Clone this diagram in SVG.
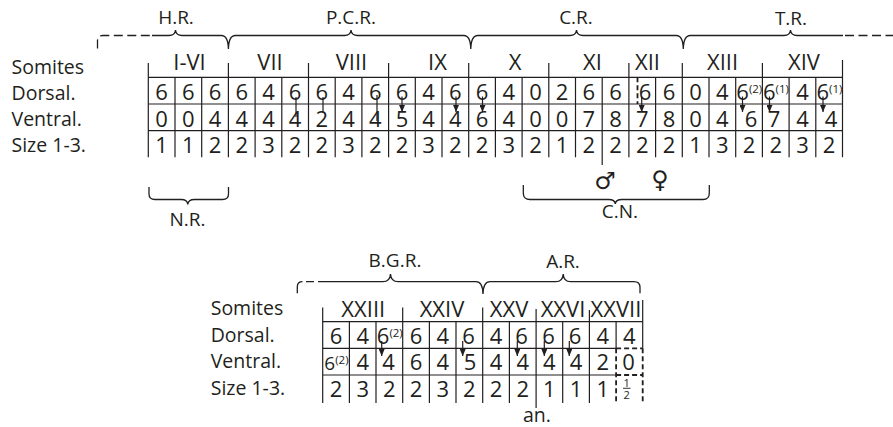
<svg xmlns="http://www.w3.org/2000/svg" width="893" height="427" viewBox="0 0 893 427">
<defs>
<marker id="ah" viewBox="0 0 7 6" refX="7" refY="3" markerWidth="7" markerHeight="6" orient="auto" markerUnits="userSpaceOnUse"><path d="M0,0 L7,3 L0,6 z" fill="#231f20"/></marker>
<style>
text{font-family:"Open Sans","Noto Sans","Liberation Sans",sans-serif;fill:#231f20}
.t{font-size:22px;text-anchor:middle}
.ts{font-size:22px}
.sm{font-size:11.5px}
.lab{font-size:19.5px}
.reg{font-size:19px;text-anchor:middle}
.sym{font-family:"DejaVu Sans",sans-serif;font-size:24px;text-anchor:middle}
.fr{font-size:11px;text-anchor:middle}
.ln{stroke:#231f20;stroke-width:1.2;fill:none}
.dl{stroke:#231f20;stroke-width:1.8;fill:none;stroke-dasharray:5 3}
.br{stroke:#231f20;stroke-width:1.3;fill:none}
.bd{stroke:#231f20;stroke-width:1.3;fill:none;stroke-dasharray:9 4.5}
.ar{stroke:#231f20;stroke-width:1.2;fill:none;marker-end:url(#ah)}
</style>
</defs>
<rect width="893" height="427" fill="#fff"/>

<g id="row-labels-top">
<text class="lab" x="11.5" y="73.5">Somites</text>
<text class="lab" x="11.5" y="100">Dorsal.</text>
<text class="lab" x="11.5" y="126">Ventral.</text>
<text class="lab" x="11.5" y="152">Size 1-3.</text>
</g>

<g id="regions-top">
<path class="bd" d="M97.5,48.5 V41 Q97.5,35.5 103,35.5 H152"/>
<path class="br" d="M152,35.5 H169 Q175,35.5 175.5,30 Q176,35.5 182,35.5 H221.4 Q228.1,35.5 228.4,49 Q228.7,35.5 235.4,35.5 H344.5 Q350.5,35.5 351,30 Q351.5,35.5 357.5,35.5 H463.8 Q470.5,35.5 470.8,49 Q471.1,35.5 477.8,35.5 H570 Q576,35.5 576.5,30 Q577,35.5 583,35.5 H676.3 Q683,35.5 683.3,49 Q683.6,35.5 690.3,35.5 H784 Q790,35.5 790.5,30 Q791,35.5 797,35.5 H843"/>
<path class="bd" d="M845,35.5 H893"/>
<text class="reg" x="176" y="24">H.R.</text>
<text class="reg" x="351" y="24">P.C.R.</text>
<text class="reg" x="576" y="24">C.R.</text>
<text class="reg" x="791" y="25">T.R.</text>
</g>

<g id="table-top">
<path class="ln" d="M148.3,77.3 H842.5 M148.3,104 H842.5 M148.3,130.7 H842.5"/>
<path class="ln" d="M148.3,63 V157.3 M175,77.3 V157.3 M201.7,77.3 V157.3 M228.4,63 V157.3 M255.1,77.3 V157.3 M281.8,77.3 V157.3 M308.5,63 V157.3 M335.2,77.3 V157.3 M361.9,77.3 V157.3 M388.6,63 V157.3 M415.3,77.3 V157.3 M442,77.3 V157.3 M468.7,63 V157.3 M495.4,77.3 V157.3 M522.1,77.3 V157.3 M548.8,63 V157.3 M575.5,77.3 V157.3 M602.2,77.3 V165 M628.9,63 V157.3 M655.6,77.3 V157.3 M682.3,63 V157.3 M709,77.3 V157.3 M735.7,77.3 V157.3 M762.4,63 V157.3 M789.1,77.3 V157.3 M815.8,77.3 V157.3 M842.5,60 V157.3"/>
<path class="dl" d="M637.5,77.3 V104"/>
<g id="somites-top">
<text class="t" x="189.5" y="70">I-VI</text>
<text class="t" x="270" y="70">VII</text>
<text class="t" x="351.5" y="70">VIII</text>
<text class="t" x="437.5" y="70">IX</text>
<text class="t" x="515" y="70">X</text>
<text class="t" x="592.5" y="70">XI</text>
<text class="t" x="647.5" y="70">XII</text>
<text class="t" x="722.5" y="70">XIII</text>
<text class="t" x="804" y="70">XIV</text>
</g>
<g id="dorsal-top">
<text class="t" x="161.65" y="99.8">6</text>
<text class="t" x="188.35" y="99.8">6</text>
<text class="t" x="215.05" y="99.8">6</text>
<text class="t" x="241.75" y="99.8">6</text>
<text class="t" x="268.45" y="99.8">4</text>
<text class="t" x="295.15" y="99.8">6</text>
<text class="t" x="321.85" y="99.8">6</text>
<text class="t" x="348.55" y="99.8">4</text>
<text class="t" x="375.25" y="99.8">6</text>
<text class="t" x="401.95" y="99.8">6</text>
<text class="t" x="428.65" y="99.8">4</text>
<text class="t" x="455.35" y="99.8">6</text>
<text class="t" x="482.05" y="99.8">6</text>
<text class="t" x="508.75" y="99.8">4</text>
<text class="t" x="535.45" y="99.8">0</text>
<text class="t" x="562.15" y="99.8">2</text>
<text class="t" x="588.85" y="99.8">6</text>
<text class="t" x="615.55" y="99.8">6</text>
<text class="t" x="645" y="99.8">6</text>
<text class="t" x="668.95" y="99.8">6</text>
<text class="t" x="695.65" y="99.8">0</text>
<text class="t" x="722.35" y="99.8">4</text>
<text class="ts" x="736.3" y="99.8">6<tspan class="sm" dy="-7">(2)</tspan></text>
<text class="ts" x="763" y="99.8">6<tspan class="sm" dy="-7">(1)</tspan></text>
<text class="t" x="802.45" y="99.8">4</text>
<text class="ts" x="816.5" y="99.8">6<tspan class="sm" dy="-7">(1)</tspan></text>
</g>
<g id="ventral-top">
<text class="t" x="161.65" y="126.5">0</text>
<text class="t" x="188.35" y="126.5">0</text>
<text class="t" x="215.05" y="126.5">4</text>
<text class="t" x="241.75" y="126.8">4</text>
<text class="t" x="268.45" y="126.8">4</text>
<text class="t" x="295.15" y="126.8">4</text>
<text class="t" x="321.85" y="126.8">2</text>
<text class="t" x="348.55" y="126.8">4</text>
<text class="t" x="375.25" y="126.8">4</text>
<text class="t" x="401.95" y="126.8">5</text>
<text class="t" x="428.65" y="126.5">4</text>
<text class="t" x="455.35" y="126.8">4</text>
<text class="t" x="482.05" y="126.8">6</text>
<text class="t" x="508.75" y="126.5">4</text>
<text class="t" x="535.45" y="126.5">0</text>
<text class="t" x="562.15" y="126.5">0</text>
<text class="t" x="588.85" y="126.5">7</text>
<text class="t" x="615.55" y="126.5">8</text>
<text class="t" x="642.25" y="126.8">7</text>
<text class="t" x="668.95" y="126.5">8</text>
<text class="t" x="695.65" y="126.5">0</text>
<text class="t" x="722.35" y="126.5">4</text>
<text class="t" x="751" y="126.8">6</text>
<text class="t" x="774" y="126.8">7</text>
<text class="t" x="802.45" y="126.5">4</text>
<text class="t" x="831" y="126.8">4</text>
</g>
<g id="size-top">
<text class="t" x="161.65" y="153">1</text>
<text class="t" x="188.35" y="153">1</text>
<text class="t" x="215.05" y="153">2</text>
<text class="t" x="241.75" y="153">2</text>
<text class="t" x="268.45" y="153">3</text>
<text class="t" x="295.15" y="153">2</text>
<text class="t" x="321.85" y="153">2</text>
<text class="t" x="348.55" y="153">3</text>
<text class="t" x="375.25" y="153">2</text>
<text class="t" x="401.95" y="153">2</text>
<text class="t" x="428.65" y="153">3</text>
<text class="t" x="455.35" y="153">2</text>
<text class="t" x="482.05" y="153">2</text>
<text class="t" x="508.75" y="153">3</text>
<text class="t" x="535.45" y="153">2</text>
<text class="t" x="562.15" y="153">1</text>
<text class="t" x="588.85" y="153">2</text>
<text class="t" x="615.55" y="153">2</text>
<text class="t" x="642.25" y="153">2</text>
<text class="t" x="668.95" y="153">2</text>
<text class="t" x="695.65" y="153">1</text>
<text class="t" x="722.35" y="153">3</text>
<text class="t" x="749.05" y="153">2</text>
<text class="t" x="775.75" y="153">2</text>
<text class="t" x="802.45" y="153">3</text>
<text class="t" x="829.15" y="153">2</text>
</g>
</g>

<g id="nr">
<path class="br" d="M149,187 V194 Q149,199.5 155,199.5 H181 Q187.5,199.5 187.8,204.5 Q188.1,199.5 194.5,199.5 H222.5 Q228.5,199.5 228.5,194 V187"/>
<text class="reg" x="187.5" y="226">N.R.</text>
</g>

<g id="cn">
<text class="sym" x="605" y="189">♂</text>
<text class="sym" x="660" y="188">♀</text>
<path class="br" d="M523.3,185 V193 Q523.3,199.5 530,199.5 H608.5 Q615,199.5 615.3,204 Q615.6,199.5 622,199.5 H703 Q709.3,199.5 709.3,193 V185"/>
<text class="reg" x="620" y="218">C.N.</text>
</g>

<g id="row-labels-bottom">
<text class="lab" x="210.7" y="315">Somites</text>
<text class="lab" x="210.7" y="341.7">Dorsal.</text>
<text class="lab" x="210.7" y="368.3">Ventral.</text>
<text class="lab" x="210.7" y="395">Size 1-3.</text>
</g>

<g id="regions-bottom">
<path class="br" d="M297.3,293.3 V287 Q297.3,281.7 302.5,281.7" />
<path class="br" d="M306,281.7 H314 M318,281.7 H383 Q390,281.7 390.5,274 Q391,281.7 398,281.7 H476 Q482.7,281.7 483,294 Q483.3,281.7 490,281.7 H556 Q562.7,281.7 563.2,274 Q563.7,281.7 570.5,281.7 H634 Q640,281.7 640,287.5 V293.3"/>
<text class="reg" x="395" y="267">B.G.R.</text>
<text class="reg" x="563" y="268">A.R.</text>
</g>

<g id="table-bottom">
<path class="ln" d="M322.7,321.7 H642.7 M322.7,348.3 H616.1 M322.7,375 H616.1"/>
<path class="dl" d="M616.1,348.3 H642.7 M616.1,375 H642.7 M616.1,348.3 V403 M642.7,348.3 V403"/>
<path class="ln" d="M322.7,307.5 V403 M349.4,321.7 V403 M376,321.7 V403 M402.7,307.5 V403 M429.4,321.7 V403 M456,321.7 V403 M482.7,307.5 V403 M509.4,321.7 V403 M536.1,309 V408 M562.7,321.7 V403 M589.4,310 V403 M616.1,321.7 V348.3 M642.7,300 V348.3"/>
<g id="somites-bottom">
<text class="t" x="363.3" y="316.7">XXIII</text>
<text class="t" x="442" y="316.7">XXIV</text>
<text class="t" x="509" y="316.7">XXV</text>
<text class="t" x="563" y="316.7">XXVI</text>
<text class="t" x="616" y="316.7">XXVII</text>
</g>
<g id="dorsal-bottom">
<text class="t" x="336" y="343.5">6</text>
<text class="t" x="362.7" y="343.5">4</text>
<text class="ts" x="376.8" y="343.5">6<tspan class="sm" dy="-7">(2)</tspan></text>
<text class="t" x="416" y="343.5">6</text>
<text class="t" x="442.7" y="343.5">4</text>
<text class="t" x="468.5" y="343.5">6</text>
<text class="t" x="496" y="343.5">4</text>
<text class="t" x="521.5" y="343.5">6</text>
<text class="t" x="548.5" y="343.5">6</text>
<text class="t" x="575" y="343.5">6</text>
<text class="t" x="602.7" y="343.5">4</text>
<text class="t" x="629.4" y="343.5">4</text>
</g>
<g id="ventral-bottom">
<text class="ts" x="324.3" y="370.3" style="font-size:19px">6<tspan class="sm" dy="-6">(2)</tspan></text>
<text class="t" x="362.7" y="370.3">4</text>
<text class="t" x="388.5" y="370.3">4</text>
<text class="t" x="416" y="370.3">6</text>
<text class="t" x="442.7" y="370.3">4</text>
<text class="t" x="470" y="370.3">5</text>
<text class="t" x="496" y="370.3">4</text>
<text class="t" x="522.7" y="370.3">4</text>
<text class="t" x="549.4" y="370.3">4</text>
<text class="t" x="576" y="370.3">4</text>
<text class="t" x="602.7" y="370.3">2</text>
<text class="t" x="628.5" y="370.3">0</text>
</g>
<g id="size-bottom">
<text class="t" x="336" y="397">2</text>
<text class="t" x="362.7" y="397">3</text>
<text class="t" x="389.4" y="397">2</text>
<text class="t" x="416" y="397">2</text>
<text class="t" x="442.7" y="397">3</text>
<text class="t" x="469.4" y="397">2</text>
<text class="t" x="496" y="397">2</text>
<text class="t" x="522.7" y="397">2</text>
<text class="t" x="549.4" y="397">1</text>
<text class="t" x="576" y="397">1</text>
<text class="t" x="602.7" y="397">1</text>
<text class="fr" x="626.7" y="386.5">1</text>
<path class="ln" d="M623,388.3 H630.5" style="stroke-width:0.9"/>
<text class="fr" x="626.7" y="398.5">2</text>
</g>
<text class="lab" x="537" y="422" text-anchor="middle">an.</text>
</g>

<g id="connectors">
<path class="ln" d="M296,97 V117 M323,97 V113 M377,95 V121"/>
<path class="ar" d="M402,96.5 V112"/>
<path class="ar" d="M456,96.5 V112"/>
<path class="ar" d="M482.5,96.5 V112"/>
<path class="ar" d="M641.7,97 V112"/>
<path class="ar" d="M742.5,96.5 V112"/>
<path class="ar" d="M769.5,96.5 V112"/>
<path class="ar" d="M823,96.5 V112"/>
<path class="ar" d="M381.7,341 V356"/>
<path class="ar" d="M462.7,341 V356"/>
<path class="ar" d="M517.3,341 V356"/>
<path class="ar" d="M544.3,341 V356"/>
<path class="ar" d="M569.3,341 V356"/>
</g>
</svg>
